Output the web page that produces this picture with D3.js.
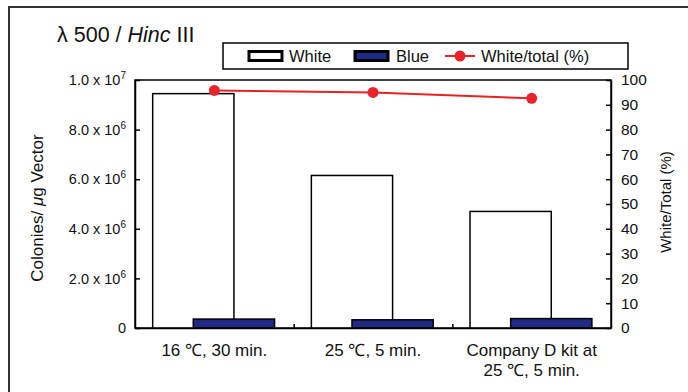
<!DOCTYPE html>
<html><head><meta charset="utf-8">
<script src="https://cdn.jsdelivr.net/npm/d3@7"></script>
<style>body{margin:0;background:#fff;}svg{display:block;font-family:"Liberation Sans",Arial,sans-serif;}</style>
</head><body>
<svg id="c" width="688" height="392"></svg>
<script>
const categories = ["16 ℃, 30 min.", "25 ℃, 5 min.", "Company D kit at\n25 ℃, 5 min."];
const whiteCounts = [9.45e6, 6.15e6, 4.70e6];
const blueCounts = [3.6e5, 3.3e5, 3.8e5];
const whitePct = [95.8, 95.0, 92.6];
const leftTicks = [0, 2e6, 4e6, 6e6, 8e6, 1e7];
const leftTickLabels = [["0", ""], ["2.0 x 10", "6"], ["4.0 x 10", "6"], ["6.0 x 10", "6"], ["8.0 x 10", "6"], ["1.0 x 10", "7"]];
const rightTicks = [0, 10, 20, 30, 40, 50, 60, 70, 80, 90, 100];

const svg = d3.select("#c");
const m = {l: 135, t: 80, r: 611, b: 328};

// outer frame
svg.append("rect").attr("x", 9).attr("y", 7).attr("width", 720).attr("height", 420)
  .attr("fill", "none").attr("stroke", "#333").attr("stroke-width", 2);

const x = d3.scaleBand().domain(categories.map((d, i) => i)).range([m.l, m.r]).padding(0);
const y = d3.scaleLinear().domain([0, 1e7]).range([m.b, m.t]);
const y2 = d3.scaleLinear().domain([0, 100]).range([m.b, m.t]);
const bw = x.bandwidth() * 0.512, off = x.bandwidth() * 0.1115;

// plot border
svg.append("rect").attr("x", m.l).attr("y", m.t).attr("width", m.r - m.l).attr("height", m.b - m.t)
  .attr("fill", "#fff").attr("stroke", "#000").attr("stroke-width", 1.5);

// white bars
svg.selectAll(".wb").data(whiteCounts).join("rect")
  .attr("x", (d, i) => x(i) + off).attr("y", d => y(d))
  .attr("width", bw).attr("height", d => y(0) - y(d))
  .attr("fill", "#fff").attr("stroke", "#000").attr("stroke-width", 1.5);
// blue bars
svg.selectAll(".bb").data(blueCounts).join("rect")
  .attr("x", (d, i) => x(i) + off + bw / 2).attr("y", d => y(d))
  .attr("width", bw).attr("height", d => y(0) - y(d))
  .attr("fill", "#1f2a84").attr("stroke", "#000").attr("stroke-width", 1.5);

// axes
const fs = 15.5;
const gl = svg.append("g").attr("transform", `translate(${m.l},0)`)
  .call(d3.axisLeft(y).tickValues(leftTicks).tickSizeInner(-5).tickSizeOuter(0).tickPadding(9).tickFormat(""));
gl.select(".domain").attr("stroke-width", 1.5);
gl.selectAll(".tick line").attr("stroke-width", 1.5);
gl.selectAll(".tick").each(function (d, i) {
  const t = d3.select(this).select("text").attr("font-size", 14.5).attr("fill", "#111")
    .attr("font-family", "Liberation Sans, Arial, sans-serif");
  const lab = leftTickLabels[i];
  t.append("tspan").text(lab[0]);
  if (lab[1]) t.append("tspan").attr("font-size", 10).attr("dy", "-0.6em").text(lab[1]);
});

const gr = svg.append("g").attr("transform", `translate(${m.r},0)`)
  .call(d3.axisRight(y2).tickValues(rightTicks).tickSizeInner(-5).tickSizeOuter(0).tickPadding(10));
gr.select(".domain").attr("stroke-width", 1.5);
gr.selectAll(".tick line").attr("stroke-width", 1.5);
gr.selectAll(".tick text").attr("font-size", fs).attr("fill", "#111")
  .attr("font-family", "Liberation Sans, Arial, sans-serif");

const gb = svg.append("g").attr("transform", `translate(0,${m.b})`)
  .call(d3.axisBottom(d3.scaleLinear().domain([0, 3]).range([m.l, m.r])).tickValues([1, 2]).tickSizeInner(-4).tickSizeOuter(0).tickFormat(""));
gb.select(".domain").attr("stroke-width", 1.5);
gb.selectAll(".tick line").attr("stroke-width", 1.5);

// category labels
categories.forEach((c, i) => {
  const t = svg.append("text").attr("x", x(i) + x.bandwidth() / 2).attr("y", 356)
    .attr("text-anchor", "middle").attr("font-size", 17).attr("fill", "#111");
  c.split("\n").forEach((line, j) => t.append("tspan").attr("x", x(i) + x.bandwidth() / 2).attr("dy", j ? 20 : 0).text(line));
});

// line
const cx = i => x(i) + x.bandwidth() / 2;
svg.append("path").datum(whitePct)
  .attr("d", d3.line().x((d, i) => cx(i)).y(d => y2(d)))
  .attr("fill", "none").attr("stroke", "#e52421").attr("stroke-width", 2);
svg.selectAll(".pt").data(whitePct).join("circle")
  .attr("cx", (d, i) => cx(i)).attr("cy", d => y2(d)).attr("r", 5.5).attr("fill", "#e8232a");

// axis titles
svg.append("text").attr("transform", "translate(43,208) rotate(-90)").attr("text-anchor", "middle")
  .attr("font-size", 17).attr("fill", "#111")
  .call(t => { t.append("tspan").text("Colonies/ "); t.append("tspan").attr("font-style", "italic").text("μ"); t.append("tspan").text("g Vector"); });
svg.append("text").attr("transform", "translate(671,202) rotate(-90)").attr("text-anchor", "middle")
  .attr("font-size", 15).attr("fill", "#111").text("White/Total (%)");

// title
svg.append("text").attr("x", 57).attr("y", 42).attr("font-size", 21.5).attr("fill", "#111")
  .call(t => { t.append("tspan").text("λ 500 / "); t.append("tspan").attr("font-style", "italic").text("Hinc"); t.append("tspan").text(" III"); });

// legend
svg.append("rect").attr("x", 223).attr("y", 43).attr("width", 405).attr("height", 26)
  .attr("fill", "#fff").attr("stroke", "#000").attr("stroke-width", 1.5);
svg.append("rect").attr("x", 249).attr("y", 51.5).attr("width", 33).attr("height", 9)
  .attr("fill", "#fff").attr("stroke", "#000").attr("stroke-width", 3);
svg.append("text").attr("x", 289).attr("y", 62).attr("font-size", 16.5).attr("fill", "#111").text("White");
svg.append("rect").attr("x", 355).attr("y", 51.5).attr("width", 33).attr("height", 9)
  .attr("fill", "#1f2a84").attr("stroke", "#000").attr("stroke-width", 3);
svg.append("text").attr("x", 396).attr("y", 62).attr("font-size", 16.5).attr("fill", "#111").text("Blue");
svg.append("line").attr("x1", 445).attr("x2", 475).attr("y1", 56).attr("y2", 56).attr("stroke", "#e52421").attr("stroke-width", 2);
svg.append("circle").attr("cx", 460).attr("cy", 56).attr("r", 5.5).attr("fill", "#e8232a");
svg.append("text").attr("x", 481).attr("y", 62).attr("font-size", 16.5).attr("fill", "#111").text("White/total (%)");
</script>
</body></html>
